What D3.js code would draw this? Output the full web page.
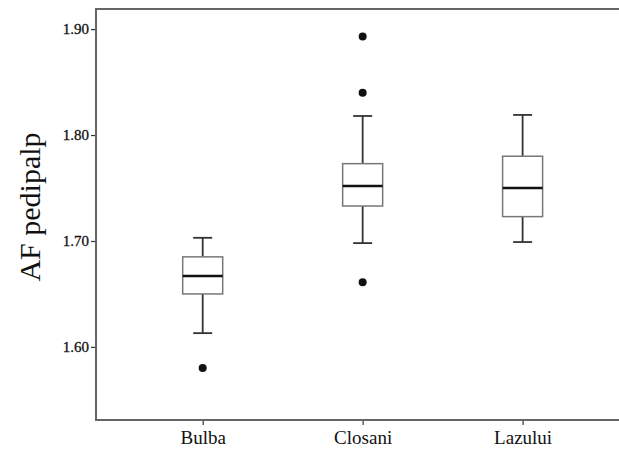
<!DOCTYPE html>
<html>
<head>
<meta charset="utf-8">
<script src="https://cdn.jsdelivr.net/npm/d3@7"></script>
<style>
  body { margin: 0; background: #fff; }
  svg { display: block; }
</style>
</head>
<body>
<div id="chart"></div>
<script>
const width = 619, height = 453,
  margin = { top: 9, right: 1, bottom: 33, left: 96 };
const serif = "'Liberation Serif', 'Times New Roman', serif";

// groups and their box statistics
const groups = ["Bulba", "Closani", "Lazului"];
const whiskerLow = [1.613, 1.698, 1.699];
const q1 = [1.650, 1.733, 1.723];
const medians = [1.667, 1.752, 1.750];
const q3 = [1.685, 1.773, 1.780];
const whiskerHigh = [1.703, 1.818, 1.819];
// outliers as [group, value]
const outliers = [["Bulba", 1.580], ["Closani", 1.893], ["Closani", 1.840], ["Closani", 1.661]];
const yTicks = [1.60, 1.70, 1.80, 1.90];

const boxes = groups.map((g, i) => ({
  group: g, lo: whiskerLow[i], q1: q1[i], med: medians[i], q3: q3[i], hi: whiskerHigh[i]
}));

const svg = d3.select("#chart").append("svg")
  .attr("width", width)
  .attr("height", height);

const x = d3.scalePoint()
  .domain(groups)
  .range([margin.left, 629.3])
  .padding(0.667);

const y = d3.scaleLinear()
  .domain([1.531, 1.919])
  .range([height - margin.bottom, margin.top]);

const boxW = 40, capW = 19;

// y axis
svg.append("g")
  .attr("transform", `translate(${margin.left},0)`)
  .attr("font-family", serif)
  .call(d3.axisLeft(y).tickValues(yTicks).tickFormat(d3.format(".2f")).tickSize(5).tickPadding(2))
  .call(g => g.attr("font-family", serif))
  .call(g => g.select(".domain").remove())
  .call(g => g.selectAll(".tick line").attr("stroke", "#333").attr("stroke-width", 1.2))
  .call(g => g.selectAll(".tick text").attr("font-size", 15).attr("fill", "#111")
    .attr("font-family", serif).attr("stroke", "#111").attr("stroke-width", 0.3));

// x axis
svg.append("g")
  .attr("transform", `translate(0,${height - margin.bottom})`)
  .call(d3.axisBottom(x).tickSize(5).tickPadding(6))
  .call(g => g.attr("font-family", serif))
  .call(g => g.select(".domain").remove())
  .call(g => g.selectAll(".tick line").attr("stroke", "#333").attr("stroke-width", 1.2))
  .call(g => g.selectAll(".tick text").attr("font-size", 19).attr("fill", "#111")
    .attr("font-family", serif));

// frame: left, top and bottom lines
svg.append("path")
  .attr("d", `M${width},${margin.top}H${margin.left}V${height - margin.bottom}H${width}`)
  .attr("fill", "none")
  .attr("stroke", "#666")
  .attr("stroke-width", 2);

// y label
svg.append("text")
  .attr("transform", `translate(40,207) rotate(-90)`)
  .attr("text-anchor", "middle")
  .attr("font-family", serif)
  .attr("font-size", 30)
  .attr("fill", "#111")
  .text("AF pedipalp");

const box = svg.selectAll(".box")
  .data(boxes)
  .join("g")
  .attr("class", "box");

// whiskers
box.append("line")
  .attr("x1", d => x(d.group)).attr("x2", d => x(d.group))
  .attr("y1", d => y(d.hi)).attr("y2", d => y(d.q3))
  .attr("stroke", "#333").attr("stroke-width", 1.8);
box.append("line")
  .attr("x1", d => x(d.group)).attr("x2", d => x(d.group))
  .attr("y1", d => y(d.q1)).attr("y2", d => y(d.lo))
  .attr("stroke", "#333").attr("stroke-width", 1.8);
box.append("line")
  .attr("x1", d => x(d.group) - capW / 2).attr("x2", d => x(d.group) + capW / 2)
  .attr("y1", d => y(d.hi)).attr("y2", d => y(d.hi))
  .attr("stroke", "#333").attr("stroke-width", 1.8);
box.append("line")
  .attr("x1", d => x(d.group) - capW / 2).attr("x2", d => x(d.group) + capW / 2)
  .attr("y1", d => y(d.lo)).attr("y2", d => y(d.lo))
  .attr("stroke", "#333").attr("stroke-width", 1.8);

// boxes
box.append("rect")
  .attr("x", d => x(d.group) - boxW / 2)
  .attr("width", boxW)
  .attr("y", d => y(d.q3))
  .attr("height", d => y(d.q1) - y(d.q3))
  .attr("fill", "#fff")
  .attr("stroke", "#777")
  .attr("stroke-width", 1.5);

// medians
box.append("line")
  .attr("x1", d => x(d.group) - boxW / 2).attr("x2", d => x(d.group) + boxW / 2)
  .attr("y1", d => y(d.med)).attr("y2", d => y(d.med))
  .attr("stroke", "#111").attr("stroke-width", 2.5);

// outliers
svg.selectAll(".outlier")
  .data(outliers)
  .join("circle")
  .attr("class", "outlier")
  .attr("cx", d => x(d[0]))
  .attr("cy", d => y(d[1]))
  .attr("r", 4)
  .attr("fill", "#111");
</script>
</body>
</html>
